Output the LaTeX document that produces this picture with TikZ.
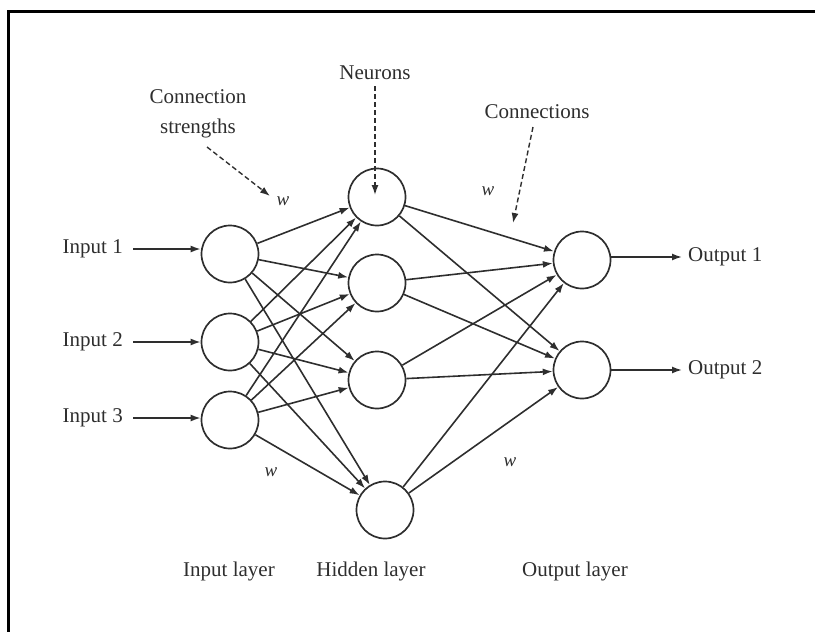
\documentclass[tikz,border=0pt]{standalone}
\usepackage{fontspec}
\setmainfont{Liberation Serif}
\usetikzlibrary{arrows.meta}
\definecolor{ink}{HTML}{2E2E2E}
\tikzset{
  neuron/.style={circle,draw=ink,line width=1.7pt,minimum size=57pt,inner sep=0pt},
  conn/.style={draw=ink,line width=1.6pt,-{Latex[length=10pt,width=7pt]}},
  annot/.style={draw=ink,line width=1.4pt,dash pattern=on 5pt off 3pt,-{Latex[length=10pt,width=7pt]}},
  lbl/.style={text=ink,font=\fontsize{21}{24}\selectfont,inner sep=0pt},
  wlbl/.style={text=ink,font=\fontsize{19}{22}\selectfont\itshape,inner sep=0pt}
}
\begin{document}
\begin{tikzpicture}[x=1pt,y=-1pt]
\useasboundingbox (0,0) rectangle (815,632);
% frame
\draw[line width=3pt,black] (8.5,632) -- (8.5,11) -- (815,11);
% neurons
\node[neuron] (i1) at (230,254) {};
\node[neuron] (i2) at (230,342) {};
\node[neuron] (i3) at (230,420) {};
\node[neuron] (h1) at (377,197) {};
\node[neuron] (h2) at (377,283) {};
\node[neuron] (h3) at (377,380) {};
\node[neuron] (h4) at (385,510) {};
\node[neuron] (o1) at (582,260) {};
\node[neuron] (o2) at (582,370) {};
% input / output labels
\node[lbl,anchor=east] (in1) at (123,249) {Input 1};
\node[lbl,anchor=east] (in2) at (123,342) {Input 2};
\node[lbl,anchor=east] (in3) at (123,418) {Input 3};
\node[lbl,anchor=west] (out1) at (688,257) {Output 1};
\node[lbl,anchor=west] (out2) at (688,370) {Output 2};
\draw[conn] (in1.east) ++(10,0) coordinate (a1) (a1) -- (i1.west |- a1);
\draw[conn] (in2.east) ++(10,0) coordinate (a2) (a2) -- (i2.west |- a2);
\draw[conn] (in3.east) ++(10,0) coordinate (a3) (a3) -- (i3.west |- a3);
\draw[conn] (o1.east |- out1.west) -- ([xshift=-6pt]out1.west);
\draw[conn] (o2.east |- out2.west) -- ([xshift=-6pt]out2.west);
% connections input -> hidden
\foreach \i in {i1,i2,i3}{
  \foreach \h in {h1,h2,h3,h4}{
    \draw[conn] (\i) -- (\h);
  }
}
% connections hidden -> output
\foreach \h in {h1,h2,h3,h4}{
  \foreach \o in {o1,o2}{
    \draw[conn] (\h) -- (\o);
  }
}
% annotations
\node[lbl,align=center] (cs) at (198,114) {Connection\\[6pt]strengths};
\node[lbl] (nr) at (375,73) {Neurons};
\node[lbl] (cn) at (537,112) {Connections};
\coordinate (csend) at (270,196);
\coordinate (cnend) at (513,223);
\coordinate (nrend) at (375,195);
\draw[annot] (207,147) -- (csend);
\draw[annot] (nr.south) ++(0,6) -- (nrend);
\draw[annot] (533,127) -- (cnend);
% w labels
\node[wlbl] (w1) at (283,201) {w};
\node[wlbl] (w2) at (488,191) {w};
\node[wlbl] (w3) at (271,472) {w};
\node[wlbl] (w4) at (510,462) {w};
% layer labels
\node[lbl] (li) at (229,571) {Input layer};
\node[lbl] (lh) at (371,571) {Hidden layer};
\node[lbl] (lo) at (575,571) {Output layer};
\end{tikzpicture}
\end{document}
